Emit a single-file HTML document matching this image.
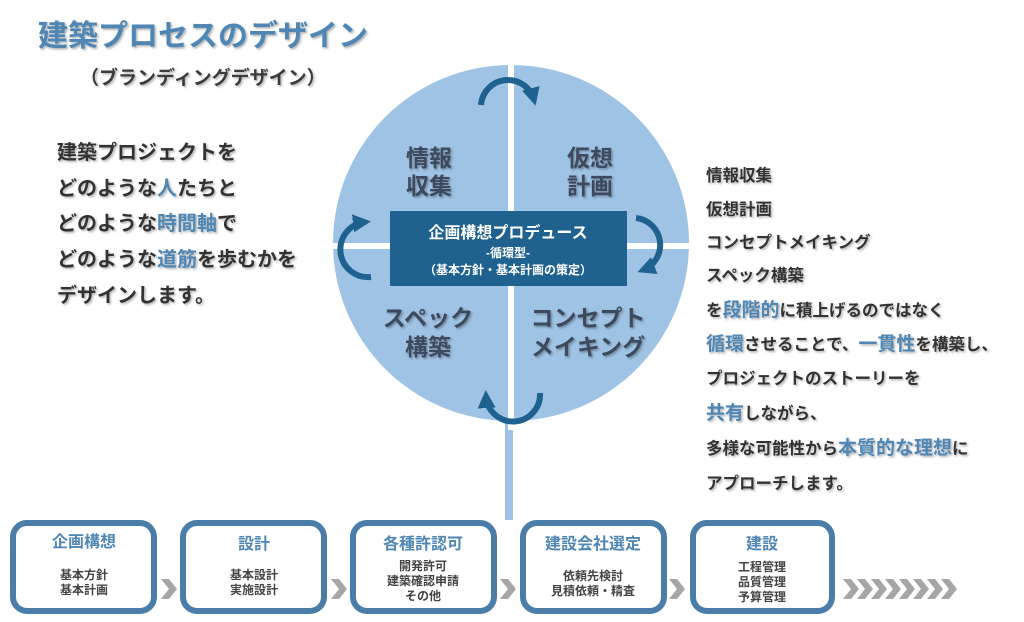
<!DOCTYPE html>
<html><head><meta charset="utf-8"><style>
body{margin:0;background:#fff;}
svg text{font-family:"Liberation Sans","Noto Sans CJK JP",sans-serif;font-weight:bold;}
</style></head><body>
<svg width="1024" height="617" viewBox="0 0 1024 617" xmlns="http://www.w3.org/2000/svg">
<defs>
<filter id="sh" x="-10%" y="-10%" width="130%" height="140%"><feDropShadow dx="1.5" dy="1.5" stdDeviation="1" flood-color="#000" flood-opacity="0.3"/></filter>
<marker id="ah" markerWidth="4" markerHeight="4" refX="2" refY="2" orient="auto" markerUnits="strokeWidth"><path d="M0,0 L4,2 L0,4 Z" fill="#20628f" transform="translate(-1 0)"/></marker>
</defs>
<text x="38" y="46" font-size="30" fill="#4f86b3" filter="url(#sh)">建築プロセスのデザイン</text>
<text x="80" y="84" font-size="19" fill="#3a3a3a" filter="url(#sh)">（ブランディングデザイン）</text>
<g font-size="20" fill="#333" filter="url(#sh)">
<text x="57" y="159">建築プロジェクトを</text>
<text x="57" y="195">どのような<tspan fill="#4f86b3">人</tspan>たちと</text>
<text x="57" y="230">どのような<tspan fill="#4f86b3">時間軸</tspan>で</text>
<text x="57" y="266">どのような<tspan fill="#4f86b3">道筋</tspan>を歩むかを</text>
<text x="57" y="302">デザインします。</text>
</g>
<rect x="505" y="400" width="8" height="120" fill="#9fc3e4"/>
<circle cx="511" cy="243" r="178" fill="#9fc3e4"/>
<rect x="508" y="60" width="6" height="370" fill="#fff"/>
<rect x="328" y="243" width="370" height="6" fill="#fff"/>
<g font-size="23" fill="#3d4a5c" filter="url(#sh)" text-anchor="middle">
<text x="429" y="166">情報</text><text x="429" y="194">収集</text>
<text x="590" y="166">仮想</text><text x="590" y="194">計画</text>
<text x="428" y="326">スペック</text><text x="428" y="355">構築</text>
<text x="588" y="326">コンセプト</text><text x="588" y="355">メイキング</text>
</g>
<rect x="390" y="211" width="237" height="75" fill="#20628f"/>
<g fill="#fff" text-anchor="middle">
<text x="508" y="238" font-size="16">企画構想プロデュース</text>
<text x="508" y="257" font-size="12">-循環型-</text>
<text x="508" y="274" font-size="12">（基本方針・基本計画の策定）</text>
</g>
<g fill="none" stroke="#20628f" stroke-width="6">
<path d="M481,105 A27,27 0 0 1 534,100" marker-end="url(#ah)"/>
<path d="M636,218 A27,27 0 0 1 643,270" marker-end="url(#ah)"/>
<path d="M540,393 A27,27 0 0 1 486,396" marker-end="url(#ah)"/>
<path d="M371,277 A27,27 0 0 1 365,222" marker-end="url(#ah)"/>
</g>
<g font-size="16.5" fill="#333" filter="url(#sh)">
<text x="706" y="181">情報収集</text>
<text x="706" y="215">仮想計画</text>
<text x="706" y="248">コンセプトメイキング</text>
<text x="706" y="281">スペック構築</text>
<text x="706" y="316">を<tspan fill="#4f86b3" font-size="19">段階的</tspan>に積上げるのではなく</text>
<text x="706" y="350"><tspan fill="#4f86b3" font-size="19">循環</tspan>させることで、<tspan fill="#4f86b3" font-size="19">一貫性</tspan>を構築し、</text>
<text x="706" y="384">プロジェクトのストーリーを</text>
<text x="706" y="419"><tspan fill="#4f86b3" font-size="19">共有</tspan>しながら、</text>
<text x="706" y="454">多様な可能性から<tspan fill="#4f86b3" font-size="19">本質的な理想</tspan>に</text>
<text x="706" y="489">アプローチします。</text>
</g>
<g fill="#fff" stroke="#4a7ea8" stroke-width="6">
<rect x="13" y="523" width="141" height="88" rx="14"/>
<rect x="183" y="523" width="141" height="88" rx="14"/>
<rect x="353" y="523" width="141" height="88" rx="14"/>
<rect x="523" y="523" width="141" height="88" rx="14"/>
<rect x="693" y="523" width="139" height="88" rx="14"/>
</g>
<g font-size="16" fill="#4f86b3" text-anchor="middle">
<text x="84" y="547">企画構想</text>
<text x="254" y="549">設計</text>
<text x="423" y="549">各種許認可</text>
<text x="593" y="549">建設会社選定</text>
<text x="762" y="549">建設</text>
</g>
<g font-size="12" fill="#444" text-anchor="middle">
<text x="84" y="579">基本方針</text><text x="84" y="594">基本計画</text>
<text x="254" y="579">基本設計</text><text x="254" y="594">実施設計</text>
<text x="423" y="570">開発許可</text><text x="423" y="585">建築確認申請</text><text x="423" y="600">その他</text>
<text x="593" y="580">依頼先検討</text><text x="593" y="595">見積依頼・精査</text>
<text x="762" y="571">工程管理</text><text x="762" y="586">品質管理</text><text x="762" y="601">予算管理</text>
</g>
<g fill="#a6a6a6">
<path d="M161,579 h8 l8,10 l-8,10 h-8 l8,-10 Z"/>
<path d="M331,579 h8 l8,10 l-8,10 h-8 l8,-10 Z"/>
<path d="M500,579 h8 l8,10 l-8,10 h-8 l8,-10 Z"/>
<path d="M669,579 h8 l8,10 l-8,10 h-8 l8,-10 Z"/>
<path d="M843,579 h8 l8,10 l-8,10 h-8 l8,-10 Z"/>
<path d="M857,579 h8 l8,10 l-8,10 h-8 l8,-10 Z"/>
<path d="M871,579 h8 l8,10 l-8,10 h-8 l8,-10 Z"/>
<path d="M885,579 h8 l8,10 l-8,10 h-8 l8,-10 Z"/>
<path d="M899,579 h8 l8,10 l-8,10 h-8 l8,-10 Z"/>
<path d="M913,579 h8 l8,10 l-8,10 h-8 l8,-10 Z"/>
<path d="M927,579 h8 l8,10 l-8,10 h-8 l8,-10 Z"/>
<path d="M941,579 h8 l8,10 l-8,10 h-8 l8,-10 Z"/>
</g>
</svg>
</body></html>
